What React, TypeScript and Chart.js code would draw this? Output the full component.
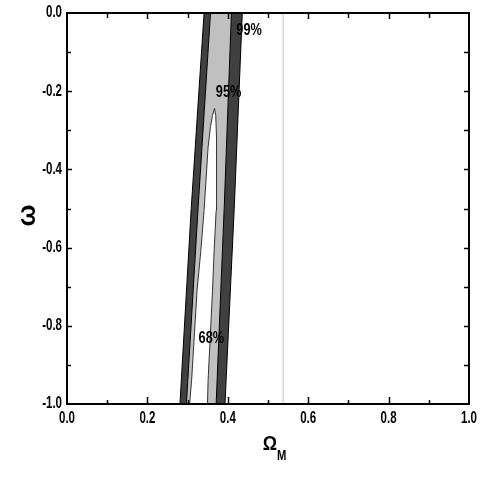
import React, { useEffect, useRef } from 'react';
import { Chart, registerables } from 'chart.js';

Chart.register(...registerables);

// Axis ranges / tick labels
const xRange = [0, 1];
const yRange = [-1, 0];
const xTickStep = 0.2;
const yTickStep = 0.2;
const minorStep = 0.1;

// Confidence contours (Omega_M, w)
const contour99X = [0.341, 0.309, 0.281, 0.393, 0.416, 0.436, 0.341];
const contour99Y = [0.0, -0.5, -1.0, -1.0, -0.5, 0.0, 0.0];

const contour95X = [0.357, 0.326, 0.297, 0.371, 0.391, 0.409, 0.357];
const contour95Y = [0.0, -0.5, -1.0, -1.0, -0.5, 0.0, 0.0];

const contour68X = [0.367, 0.362, 0.357, 0.351, 0.341, 0.333, 0.3235, 0.310, 0.305, 0.3495, 0.351, 0.362, 0.366, 0.371, 0.372, 0.370, 0.367];
const contour68Y = [-0.244, -0.262, -0.290, -0.343, -0.505, -0.607, -0.709, -0.939, -1.0, -1.0, -0.939, -0.709, -0.607, -0.505, -0.320, -0.262, -0.244];

// Reference vertical marker
const markerX = [0.538, 0.538];
const markerY = [0.0, -1.0];

// Contour labels
const contourLabels = ['99%', '95%', '68%'];
const contourLabelX = [0.453, 0.402, 0.359];
const contourLabelY = [-0.044, -0.202, -0.832];

const xTitle = 'Ω';
const xTitleSub = 'M';
const yTitle = 'ω';

const zip = (xs: number[], ys: number[]) => xs.map((x, i) => ({ x, y: ys[i] }));

const FONT = '"Liberation Sans", Arial, sans-serif';

function condensedText(ctx: CanvasRenderingContext2D, text: string, x: number, y: number, font: string, sx: number, align: CanvasTextAlign) {
  ctx.save();
  ctx.translate(x, y);
  ctx.scale(sx, 1);
  ctx.font = font;
  ctx.textAlign = align;
  ctx.textBaseline = 'middle';
  ctx.fillText(text, 0, 0);
  ctx.restore();
}

const framePlugin = {
  id: 'frameTicks',
  afterDraw(chart: any) {
    const { ctx, chartArea: a, scales } = chart;
    const xs = scales.x;
    const ys = scales.y;
    ctx.save();
    ctx.strokeStyle = '#000';
    ctx.fillStyle = '#000';
    ctx.lineWidth = 1.5;
    // x ticks (bottom + top), inward
    for (let i = 1; i < 10; i++) {
      const v = i * minorStep;
      const px = Math.round(xs.getPixelForValue(v)) + 0.5;
      const major = i % 2 === 0;
      ctx.beginPath();
      ctx.moveTo(px, a.bottom);
      ctx.lineTo(px, a.bottom - (major ? 7 : 4));
      ctx.moveTo(px, a.top);
      ctx.lineTo(px, a.top + (major ? 6 : 5));
      ctx.stroke();
    }
    // y ticks (left + right), inward
    for (let i = 1; i < 10; i++) {
      const v = -i * minorStep;
      const py = Math.round(ys.getPixelForValue(v)) + 0.5;
      const major = i % 2 === 0;
      ctx.beginPath();
      ctx.moveTo(a.left, py);
      ctx.lineTo(a.left + (major ? 5 : 4), py);
      ctx.moveTo(a.right, py);
      ctx.lineTo(a.right - 5, py);
      ctx.stroke();
    }
    ctx.lineWidth = 2;
    ctx.strokeRect(a.left, a.top, a.right - a.left, a.bottom - a.top);

    // tick labels (from the scales' own ticks)
    const tickFont = `bold 16px ${FONT}`;
    xs.ticks.forEach((t: any) => {
      condensedText(ctx, Number(t.value).toFixed(1), xs.getPixelForValue(t.value), a.bottom + 15, tickFont, 0.72, 'center');
    });
    ys.ticks.forEach((t: any) => {
      condensedText(ctx, Number(t.value).toFixed(1), a.left - 5, ys.getPixelForValue(t.value), tickFont, 0.72, 'right');
    });

    // contour labels
    contourLabels.forEach((t, i) => {
      condensedText(ctx, t, xs.getPixelForValue(contourLabelX[i]), ys.getPixelForValue(contourLabelY[i]), `bold 17px ${FONT}`, 0.75, 'center');
    });

    // x title with subscript
    const cx = (a.left + a.right) / 2;
    condensedText(ctx, xTitle, cx + 9, a.bottom + 40, `bold 21px ${FONT}`, 0.85, 'right');
    condensedText(ctx, xTitleSub, cx + 9, a.bottom + 52, `bold 15px ${FONT}`, 0.75, 'left');

    // y title rotated
    ctx.save();
    ctx.translate(28, (a.top + a.bottom) / 2 + 7);
    ctx.rotate(-Math.PI / 2);
    ctx.font = `bold 26px ${FONT}`;
    ctx.textAlign = 'center';
    ctx.textBaseline = 'middle';
    ctx.fillText(yTitle, 0, 0);
    ctx.restore();

    ctx.restore();
  },
};

export default function App() {
  const ref = useRef<HTMLCanvasElement | null>(null);
  useEffect(() => {
    if (!ref.current) return;
    const chart = new Chart(ref.current, {
      type: 'scatter',
      data: {
        datasets: [
          {
            label: '68%',
            data: zip(contour68X, contour68Y),
            showLine: true,
            fill: 'shape',
            backgroundColor: '#ffffff',
            borderColor: '#333333',
            borderWidth: 1,
            pointRadius: 0,
            tension: 0,
          },
          {
            label: '95%',
            data: zip(contour95X, contour95Y),
            showLine: true,
            fill: 'shape',
            backgroundColor: '#c0c0c0',
            borderColor: '#000000',
            borderWidth: 1,
            pointRadius: 0,
            tension: 0,
          },
          {
            label: '99%',
            data: zip(contour99X, contour99Y),
            showLine: true,
            fill: 'shape',
            backgroundColor: '#404040',
            borderColor: '#000000',
            borderWidth: 1,
            pointRadius: 0,
            tension: 0,
          },
          {
            label: 'marker',
            data: zip(markerX, markerY),
            showLine: true,
            fill: false,
            borderColor: '#d8d8d8',
            borderWidth: 1,
            pointRadius: 0,
          },
        ],
      } as any,
      options: {
        animation: false,
        responsive: false,
        layout: { padding: { left: 0, top: 13, right: 16, bottom: 0 } },
        plugins: { legend: { display: false }, tooltip: { enabled: false } },
        scales: {
          x: {
            type: 'linear',
            min: xRange[0],
            max: xRange[1],
            grid: { display: false, drawTicks: false },
            border: { display: false },
            ticks: { stepSize: xTickStep, display: false },
            afterFit: (s: any) => { s.height = 81; },
          },
          y: {
            type: 'linear',
            min: yRange[0],
            max: yRange[1],
            grid: { display: false, drawTicks: false },
            border: { display: false },
            ticks: { stepSize: yTickStep, display: false },
            afterFit: (s: any) => { s.width = 67; },
          },
        },
      } as any,
      plugins: [framePlugin],
    });
    return () => chart.destroy();
  }, []);
  return (
    <div style={{ position: 'fixed', left: 0, top: 0, width: 485, height: 485, background: '#fff' }}>
      <canvas ref={ref} width={485} height={485} style={{ display: 'block' }} />
    </div>
  );
}
